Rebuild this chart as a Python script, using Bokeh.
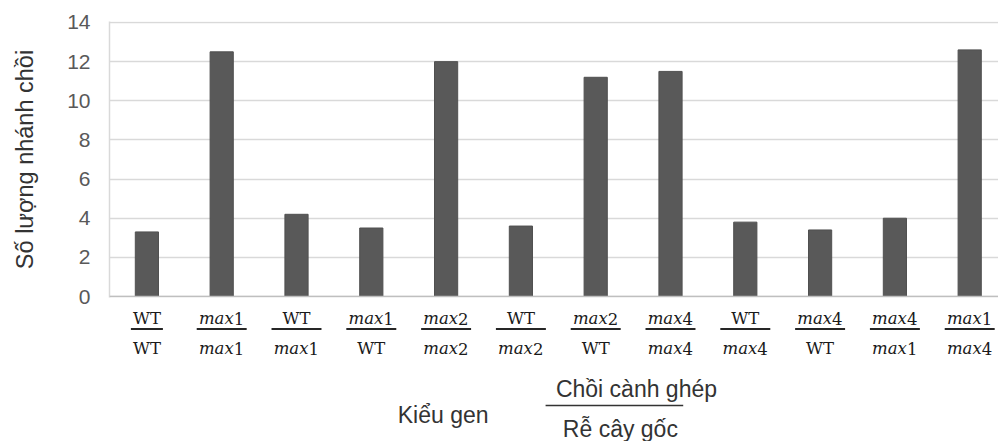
from bokeh.plotting import figure
from bokeh.models import Range1d, FixedTicker, Span, ColumnDataSource
from bokeh.layouts import column
from bokeh.core.properties import value
from bokeh.embed import file_html
from bokeh.resources import INLINE

# ---- data ----
scion = ["WT", "max1", "WT", "max1", "max2", "WT", "max2", "max4", "WT", "max4", "max4", "max1"]
rootstock = ["WT", "max1", "max1", "WT", "max2", "max2", "WT", "max4", "max4", "WT", "max1", "max4"]
shoots = [3.3, 12.5, 4.2, 3.5, 12.0, 3.6, 11.2, 11.5, 3.8, 3.4, 4.0, 12.6]
y_ticks = [0, 2, 4, 6, 8, 10, 12, 14]
y_title = "Số lượng nhánh chồi"
x_title = "Kiểu gen"
frac_top = "Chồi cành ghép"
frac_bottom = "Rễ cây gốc"

n = len(shoots)
xs = [i + 0.5 for i in range(n)]

SANS = "Liberation Sans"
SERIF = "DejaVu Serif"

p = figure(width=998, height=307, output_backend="svg", toolbar_location=None,
           x_range=Range1d(0, 11.885), y_range=Range1d(-0.05, 14.05),
           min_border_left=109, min_border_right=0, min_border_top=21, min_border_bottom=10)
p.outline_line_color = None
p.xaxis.visible = False
p.xgrid.visible = False
p.ygrid.ticker = FixedTicker(ticks=y_ticks)
p.ygrid.grid_line_color = "#d9d9d9"
p.ygrid.grid_line_width = 1.5
p.yaxis.ticker = FixedTicker(ticks=y_ticks)
p.yaxis.major_tick_line_color = None
p.yaxis.minor_tick_line_color = None
p.yaxis.major_tick_out = 0
p.yaxis.major_tick_in = 0
p.yaxis.axis_line_color = "#d9d9d9"
p.yaxis.axis_line_width = 1.5
p.yaxis.major_label_standoff = 19
p.yaxis.major_label_text_font = SANS
p.yaxis.major_label_text_font_size = "21px"
p.yaxis.major_label_text_color = "#595959"
p.yaxis.axis_label = y_title
p.yaxis.axis_label_text_font = SANS
p.yaxis.axis_label_text_font_size = "23.5px"
p.yaxis.axis_label_text_font_style = "normal"
p.yaxis.axis_label_text_color = "#333333"
p.yaxis.axis_label_standoff = 26

p.vbar(x=xs, top=shoots, width=0.31, fill_color="#595959", line_color="#505050", line_width=1)
p.add_layout(Span(location=0, dimension="width", line_color="#bfbfbf", line_width=1.5))

# ---- bottom label panel (y in page pixels, top = 307) ----
p2 = figure(width=998, height=134, output_backend="svg", toolbar_location=None,
            x_range=p.x_range, y_range=Range1d(441, 307),
            min_border_left=109, min_border_right=0, min_border_top=0, min_border_bottom=0,
            x_axis_location=None, y_axis_location=None)
p2.outline_line_color = None
p2.grid.visible = False

roman = dict(x=[], y=[], text=[])
ital = dict(x=[], y=[], text=[])
digit = dict(x=[], y=[], text=[])
seg = dict(x0=[], x1=[], y=[])
for i, (a, b) in enumerate(zip(scion, rootstock)):
    for lab, yb in ((a, 318), (b, 348)):
        if lab.startswith("max"):
            ital["x"].append(xs[i]); ital["y"].append(yb); ital["text"].append(lab[:3])
            digit["x"].append(xs[i]); digit["y"].append(yb); digit["text"].append(lab[3:])
        else:
            roman["x"].append(xs[i]); roman["y"].append(yb); roman["text"].append(lab)
    half = 0.334 if ("max" in a or "max" in b) else 0.214
    seg["x0"].append(xs[i] - half); seg["x1"].append(xs[i] + half); seg["y"].append(328.5)

common = dict(text_font=value(SERIF), text_font_size="16.5px", text_color="#1a1a1a",
              text_baseline="alphabetic")
p2.text(x="x", y="y", text="text", source=ColumnDataSource(roman), text_align="center", **common)
p2.text(x="x", y="y", text="text", source=ColumnDataSource(ital), text_align="right",
        x_offset=12, text_font_style="italic", **common)
p2.text(x="x", y="y", text="text", source=ColumnDataSource(digit), text_align="left",
        x_offset=12, **common)
p2.segment(x0="x0", y0="y", x1="x1", y1="y", source=ColumnDataSource(seg),
           line_color="#262626", line_width=2.2)

title_kw = dict(text_font=value(SANS), text_font_size="23px", text_color="#333333",
                text_baseline="alphabetic", text_align="center")
p2.text(x=[4.46], y=[414], text=[x_title], **title_kw)
p2.text(x=[7.045], y=[388], text=[frac_top], **title_kw)
p2.text(x=[6.83], y=[428], text=[frac_bottom], **title_kw)
p2.segment(x0=[5.83], y0=[405], x1=[7.67], y1=[405], line_color="#333333", line_width=1.5)

layout = column(p, p2, spacing=0)
open("out.html", "w").write(file_html(layout, INLINE))
